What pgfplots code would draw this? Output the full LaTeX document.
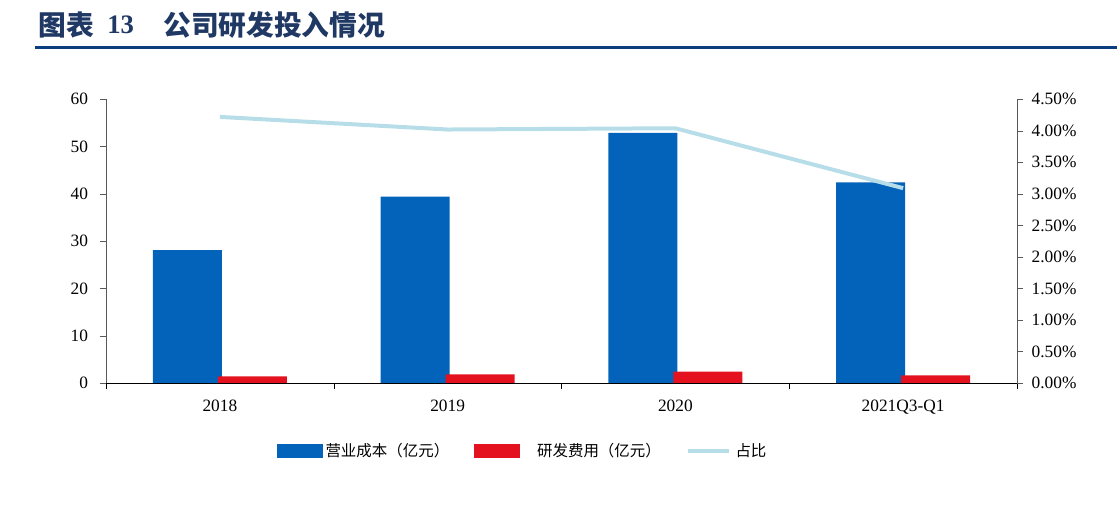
\documentclass[border=0pt]{standalone}
\usepackage{pgfplots}
\pgfplotsset{compat=1.18}
\usepackage{fontspec}
\setmainfont{Liberation Serif}
\newfontfamily\cjk{Noto Sans CJK SC}
\definecolor{barblue}{HTML}{0363BB}
\definecolor{barred}{HTML}{E4121F}
\definecolor{linecyan}{HTML}{B7DEE8}
\definecolor{titleblue}{HTML}{1F3864}
\definecolor{rulecol}{HTML}{0B3E7D}
\definecolor{axisgray}{HTML}{595959}
\begin{document}
\begin{tikzpicture}
\path[use as bounding box] (0pt,0pt) rectangle (837.75pt,378.75pt);
\node[anchor=west, text=titleblue, inner sep=0] at (28.5pt,360pt) {\cjk\bfseries\fontsize{20.8}{24}\selectfont 图表};
\node[anchor=west, text=titleblue, inner sep=0] at (80.25pt,360pt) {\bfseries\fontsize{20}{24}\selectfont 13};
\node[anchor=west, text=titleblue, inner sep=0] at (122.25pt,360pt) {\cjk\bfseries\fontsize{20.8}{24}\selectfont 公司研发投入情况};
\draw[rulecol, line width=2pt] (26.25pt,343.3pt) -- (837.75pt,343.3pt);

\begin{axis}[at={(79.5pt,91.5pt)}, anchor=south west, scale only axis,
  width=683.25pt, height=212.8pt,
  xmin=-0.5, xmax=3.5, ymin=0, ymax=60,
  ytick={0,10,...,60},
  xtick={-0.5,0.5,1.5,2.5,3.5}, xticklabels={},
  extra x ticks={0,1,2,3}, extra x tick labels={2018,2019,2020,2021Q3-Q1},
  extra x tick style={major tick length=0pt, xticklabel style={yshift=-9pt}},
  axis x line*=bottom, axis y line*=left,
  x axis line style={black, -}, y axis line style={axisgray, -},
  xtick style={black}, ytick style={axisgray},
  tick align=outside, major tick length=4.5pt,
  /pgf/number format/assume math mode=true,
  tick label style={font=\fontsize{13}{15}\selectfont},
  yticklabel style={xshift=-5.5pt},
  ybar=-3pt, bar width=51.75pt,
]
\addplot[ybar, fill=barblue, draw=none] coordinates {(0,28.1) (1,39.4) (2,52.9) (3,42.4)};
\addplot[ybar, fill=barred, draw=none] coordinates {(0,1.4) (1,1.8) (2,2.4) (3,1.6)};
\end{axis}

\begin{axis}[at={(79.5pt,91.5pt)}, anchor=south west, scale only axis,
  width=683.25pt, height=212.8pt,
  xmin=-0.5, xmax=3.5, ymin=0, ymax=4.5,
  ytick={0,0.5,...,4.5},
  yticklabel={\pgfmathprintnumber[fixed,fixed zerofill,precision=2]{\tick}\%},
  axis x line=none, axis y line*=right,
  y axis line style={axisgray, -}, ytick style={axisgray},
  tick align=outside, major tick length=4.5pt,
  /pgf/number format/assume math mode=true,
  tick label style={font=\fontsize{13}{15}\selectfont},
  yticklabel style={xshift=3pt},
  legend style={at={(0.1877,-0.2397)}, anchor=west, draw=none, fill=none,
    inner sep=0pt, outer sep=0pt, nodes={inner sep=0pt},
    font=\cjk\fontsize{11.6}{13}\selectfont,
    legend columns=3,
    /tikz/every odd column/.append style={column sep=2.25pt},
    /tikz/every even column/.append style={column sep=18.5pt}},
]
\addlegendimage{legend image code/.code={\fill[barblue] (0pt,-4.9pt) rectangle (33.75pt,4.9pt);}}
\addlegendentry{营业成本（亿元）}
\addlegendimage{legend image code/.code={\fill[barred] (0pt,-4.9pt) rectangle (33.75pt,4.9pt);}}
\addlegendentry{\hspace{11pt}研发费用（亿元）}
\addplot[linecyan, line width=3pt, mark=none,
  legend image code/.code={\draw[linecyan, line width=3pt] (0pt,0pt) -- (30.75pt,0pt);}]
  coordinates {(0,4.22) (1,4.02) (2,4.04) (3,3.09)};
\addlegendentry{\hspace{1.5pt}占比}
\end{axis}
\end{tikzpicture}
\end{document}
